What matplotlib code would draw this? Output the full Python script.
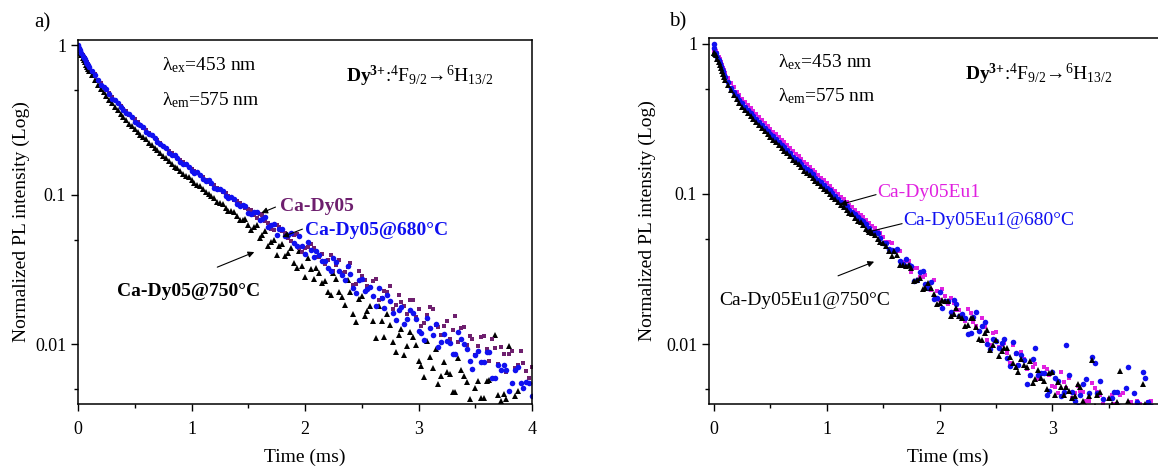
import numpy as np
import matplotlib
matplotlib.use("Agg")
import matplotlib.pyplot as plt
from matplotlib.ticker import FixedLocator, FixedFormatter, NullFormatter

plt.rcParams['font.family'] = ['Liberation Serif', 'DejaVu Serif']
plt.rcParams['mathtext.fontset'] = 'custom'
plt.rcParams['mathtext.rm'] = 'Liberation Serif'
plt.rcParams['mathtext.bf'] = 'Liberation Serif:bold'
plt.rcParams['mathtext.it'] = 'Liberation Serif:italic'

# ---- panel a) : time grids (ms) ----
t_a1 = [0, 0.02, 0.04, 0.06, 0.08, 0.10, 0.15, 0.20, 0.25, 0.30, 0.35, 0.40, 0.45, 0.50,
        0.55, 0.60, 0.65, 0.70, 0.75, 0.80, 0.85, 0.90, 0.95, 1.00,
        1.05, 1.10, 1.15, 1.20, 1.25, 1.30, 1.35, 1.40, 1.45, 1.50,
        1.55, 1.60, 1.65, 1.70, 1.75, 1.80, 1.85, 1.90, 1.95, 2.00,
        2.05, 2.10, 2.15, 2.20, 2.25, 2.30, 2.35, 2.40, 2.45, 2.50,
        2.55, 2.60, 2.65, 2.70, 2.75, 2.80, 2.85, 2.90, 2.95, 3.00,
        3.05, 3.10, 3.15, 3.20, 3.25, 3.30, 3.35, 3.40, 3.45, 3.50,
        3.55, 3.60, 3.65, 3.70, 3.75, 3.80, 3.85, 3.90, 3.95, 4.00]
t_a2 = [0.01, 0.03, 0.05, 0.07, 0.09, 0.125, 0.175, 0.225, 0.275, 0.325, 0.375, 0.425, 0.475,
        0.525, 0.575, 0.625, 0.675, 0.725, 0.775, 0.825, 0.875, 0.925, 0.975,
        1.025, 1.075, 1.125, 1.175, 1.225, 1.275, 1.325, 1.375, 1.425, 1.475,
        1.525, 1.575, 1.625, 1.675, 1.725, 1.775, 1.825, 1.875, 1.925, 1.975,
        2.025, 2.075, 2.125, 2.175, 2.225, 2.275, 2.325, 2.375, 2.425, 2.475,
        2.525, 2.575, 2.625, 2.675, 2.725, 2.775, 2.825, 2.875, 2.925, 2.975,
        3.025, 3.075, 3.125, 3.175, 3.225, 3.275, 3.325, 3.375, 3.425, 3.475,
        3.525, 3.575, 3.625, 3.675, 3.725, 3.775, 3.825, 3.875, 3.925, 3.975]

# Ca-Dy05: values on t_a2, then on t_a1
ca_dy05 = [0.97, 0.89, 0.84, 0.79, 0.75, 0.68, 0.59, 0.53, 0.48, 0.43, 0.395, 0.362, 0.332,
           0.306, 0.281, 0.260, 0.240, 0.222, 0.205, 0.190, 0.177, 0.165, 0.154,
           0.144, 0.135, 0.126, 0.119, 0.112, 0.104, 0.099, 0.092, 0.088, 0.082,
           0.0788, 0.0699, 0.0732, 0.0645, 0.0580, 0.0613, 0.0553, 0.0493, 0.0546, 0.0414,
           0.0446, 0.0445, 0.0382, 0.0348, 0.0394, 0.0341, 0.0299, 0.0328, 0.0249, 0.0311,
           0.0268, 0.0243, 0.0275, 0.0206, 0.0225, 0.0173, 0.0215, 0.0181, 0.0198, 0.0153,
           0.0132, 0.0158, 0.0172, 0.0131, 0.0133, 0.0109, 0.0154, 0.0128, 0.0099, 0.0109,
           0.0097, 0.0114, 0.0077, 0.0095, 0.0096, 0.0065, 0.0090, 0.0073, 0.0075, 0.0060]
ca_dy05_b = [0.98, 0.94, 0.87, 0.82, 0.77, 0.73, 0.64, 0.56, 0.505, 0.455, 0.415, 0.378, 0.345, 0.320,
             0.293, 0.272, 0.250, 0.232, 0.213, 0.198, 0.183, 0.172, 0.159, 0.150,
             0.140, 0.132, 0.123, 0.117, 0.109, 0.103, 0.096, 0.091, 0.085, 0.081,
             0.0729, 0.0748, 0.0673, 0.0593, 0.0631, 0.0575, 0.0513, 0.0543, 0.0442, 0.0442,
             0.0472, 0.0383, 0.0400, 0.0368, 0.0308, 0.0366, 0.0305, 0.0352, 0.0255, 0.0289,
             0.0245, 0.0265, 0.0198, 0.0228, 0.0247, 0.0183, 0.0193, 0.0159, 0.0197, 0.0173,
             0.0140, 0.0179, 0.0136, 0.0115, 0.0143, 0.0125, 0.0104, 0.0131, 0.0114, 0.0085,
             0.0112, 0.0093, 0.0109, 0.0074, 0.0086, 0.0086, 0.0070, 0.0091, 0.0066, 0.0071]

# Ca-Dy05@680°C: values on t_a1, then on t_a2
ca_dy05_680 = [1.00, 0.93, 0.85, 0.81, 0.75, 0.72, 0.63, 0.54, 0.51, 0.44, 0.41, 0.37, 0.35, 0.31,
               0.295, 0.265, 0.252, 0.226, 0.214, 0.192, 0.185, 0.167, 0.161, 0.145,
               0.142, 0.127, 0.125, 0.112, 0.110, 0.098, 0.097, 0.087, 0.086, 0.076,
               0.0766, 0.0679, 0.0711, 0.0627, 0.0543, 0.0596, 0.0537, 0.0479, 0.0531, 0.0403,
               0.0431, 0.0425, 0.0361, 0.0324, 0.0377, 0.0312, 0.0271, 0.0295, 0.0222, 0.0275,
               0.0235, 0.0211, 0.0237, 0.0175, 0.0194, 0.0145, 0.0179, 0.0149, 0.0162, 0.0124,
               0.0107, 0.0128, 0.0138, 0.0104, 0.0106, 0.0086, 0.0121, 0.0100, 0.0078, 0.0085,
               0.0076, 0.0089, 0.0060, 0.0073, 0.0073, 0.0049, 0.0068, 0.0055, 0.0056, 0.0045]
ca_dy05_680_b = [0.96, 0.89, 0.83, 0.78, 0.74, 0.67, 0.585, 0.525, 0.47, 0.43, 0.39, 0.355, 0.333,
                 0.300, 0.283, 0.255, 0.242, 0.218, 0.206, 0.186, 0.178, 0.162, 0.155,
                 0.141, 0.136, 0.124, 0.121, 0.109, 0.107, 0.096, 0.094, 0.084, 0.084,
                 0.0750, 0.0770, 0.0692, 0.0610, 0.0635, 0.0592, 0.0528, 0.0559, 0.0455, 0.0455,
                 0.0481, 0.0385, 0.0398, 0.0362, 0.0311, 0.0354, 0.0293, 0.0335, 0.0240, 0.0270,
                 0.0227, 0.0243, 0.0180, 0.0206, 0.0213, 0.0163, 0.0170, 0.0138, 0.0171, 0.0148,
                 0.0119, 0.0151, 0.0115, 0.0096, 0.0118, 0.0103, 0.0086, 0.0108, 0.0094, 0.0069,
                 0.0091, 0.0076, 0.0089, 0.0060, 0.0068, 0.0068, 0.0055, 0.0071, 0.0051, 0.0055]

# Ca-Dy05@750°C: values on t_a1, then on t_a2
ca_dy05_750 = [0.97, 0.89, 0.83, 0.77, 0.72, 0.68, 0.59, 0.51, 0.46, 0.41, 0.37, 0.33, 0.30, 0.275,
               0.25, 0.235, 0.215, 0.200, 0.182, 0.170, 0.155, 0.145, 0.133, 0.126,
               0.117, 0.110, 0.101, 0.095, 0.089, 0.082, 0.078, 0.072, 0.068, 0.063,
               0.0612, 0.0518, 0.0577, 0.0482, 0.0394, 0.0470, 0.0409, 0.0350, 0.0425, 0.0281,
               0.0322, 0.0326, 0.0259, 0.0226, 0.0301, 0.0226, 0.0185, 0.0223, 0.0141, 0.0211,
               0.0167, 0.0143, 0.0181, 0.0112, 0.0136, 0.0089, 0.0126, 0.0097, 0.0113, 0.0077,
               0.0061, 0.0082, 0.0094, 0.0062, 0.0065, 0.0048, 0.0081, 0.0062, 0.0043, 0.0051,
               0.0044, 0.0057, 0.0033, 0.0046, 0.0047, 0.0098, 0.0045, 0.0034, 0.0037, 0.0027]
ca_dy05_750_b = [0.93, 0.86, 0.80, 0.745, 0.70, 0.63, 0.545, 0.485, 0.43, 0.39, 0.35, 0.316, 0.288,
                 0.262, 0.243, 0.224, 0.207, 0.190, 0.176, 0.161, 0.151, 0.138, 0.131,
                 0.120, 0.114, 0.104, 0.099, 0.090, 0.087, 0.078, 0.077, 0.068, 0.069,
                 0.0583, 0.0628, 0.0543, 0.0454, 0.0500, 0.0459, 0.0393, 0.0443, 0.0327, 0.0336,
                 0.0378, 0.0275, 0.0299, 0.0265, 0.0215, 0.0276, 0.0207, 0.0272, 0.0159, 0.0201,
                 0.0155, 0.0180, 0.0111, 0.0144, 0.0159, 0.0104, 0.0115, 0.0085, 0.0121, 0.0099,
                 0.0072, 0.0106, 0.0070, 0.0054, 0.0076, 0.0063, 0.0048, 0.0068, 0.0056, 0.0037,
                 0.0057, 0.0044, 0.0058, 0.0115, 0.0042, 0.0043, 0.0033, 0.0049, 0.0031, 0.0036]

# ---- panel b) : time grids (ms) ----
t_b1 = [0, 0.02, 0.04, 0.06, 0.08, 0.10, 0.15, 0.20, 0.25, 0.30, 0.35, 0.40, 0.45, 0.50,
        0.55, 0.60, 0.65, 0.70, 0.75, 0.80, 0.85, 0.90, 0.95, 1.00,
        1.05, 1.10, 1.15, 1.20, 1.25, 1.30, 1.35, 1.40, 1.45, 1.50,
        1.55, 1.60, 1.65, 1.70, 1.75, 1.80, 1.85, 1.90, 1.95, 2.00,
        2.05, 2.10, 2.15, 2.20, 2.25, 2.30, 2.35, 2.40, 2.45, 2.50,
        2.55, 2.60, 2.65, 2.70, 2.75, 2.80, 2.85, 2.90, 2.95, 3.00,
        3.05, 3.10, 3.15, 3.20, 3.25, 3.30, 3.35, 3.40, 3.45, 3.50,
        3.55, 3.60, 3.65, 3.70, 3.75, 3.80, 3.85, 3.90]
t_b2 = [0, 0.01, 0.03, 0.05, 0.07, 0.09, 0.125, 0.175, 0.225, 0.275, 0.325, 0.375, 0.425, 0.475,
        0.525, 0.575, 0.625, 0.675, 0.725, 0.775, 0.825, 0.875, 0.925, 0.975,
        1.025, 1.075, 1.125, 1.175, 1.225, 1.275, 1.325, 1.375, 1.425, 1.475,
        1.525, 1.575, 1.625, 1.675, 1.725, 1.775, 1.825, 1.875, 1.925, 1.975,
        2.025, 2.075, 2.125, 2.175, 2.225, 2.275, 2.325, 2.375, 2.425, 2.475,
        2.525, 2.575, 2.625, 2.675, 2.725, 2.775, 2.825, 2.875, 2.925, 2.975,
        3.025, 3.075, 3.125, 3.175, 3.225, 3.275, 3.325, 3.375, 3.425, 3.475,
        3.525, 3.575, 3.625, 3.675, 3.725, 3.775, 3.825, 3.875]

# Ca-Dy05Eu1: values on t_b1, then on t_b2
ca_dy05eu1 = [0.88, 0.90, 0.82, 0.75, 0.69, 0.64, 0.55, 0.48, 0.43, 0.39, 0.355, 0.325, 0.296, 0.270,
              0.250, 0.229, 0.211, 0.192, 0.178, 0.162, 0.151, 0.139, 0.127, 0.118,
              0.108, 0.100, 0.092, 0.085, 0.078, 0.072, 0.067, 0.061, 0.057, 0.052,
              0.0480, 0.0412, 0.0419, 0.0358, 0.0301, 0.0320, 0.0282, 0.0245, 0.0266, 0.0197,
              0.0208, 0.0202, 0.0169, 0.0150, 0.0172, 0.0141, 0.0122, 0.0131, 0.0098, 0.0120,
              0.0099, 0.0088, 0.0099, 0.0073, 0.0080, 0.0061, 0.0074, 0.0063, 0.0068, 0.0053,
              0.0047, 0.0056, 0.0060, 0.0047, 0.0049, 0.0042, 0.0055, 0.0048, 0.0040, 0.0043,
              0.0040, 0.0046, 0.0034, 0.0041, 0.0042, 0.0031, 0.0041, 0.0035]
ca_dy05eu1_b = [0.92, 0.91, 0.86, 0.79, 0.72, 0.67, 0.59, 0.515, 0.455, 0.41, 0.372, 0.340, 0.310, 0.283,
                0.260, 0.240, 0.220, 0.201, 0.185, 0.170, 0.157, 0.145, 0.133, 0.123,
                0.113, 0.104, 0.096, 0.088, 0.082, 0.075, 0.070, 0.064, 0.059, 0.055,
                0.0478, 0.0474, 0.0414, 0.0354, 0.0356, 0.0323, 0.0280, 0.0290, 0.0230, 0.0225,
                0.0234, 0.0185, 0.0188, 0.0168, 0.0143, 0.0161, 0.0132, 0.0150, 0.0106, 0.0118,
                0.0096, 0.0102, 0.0075, 0.0086, 0.0089, 0.0068, 0.0070, 0.0059, 0.0071, 0.0062,
                0.0052, 0.0065, 0.0051, 0.0044, 0.0053, 0.0048, 0.0042, 0.0051, 0.0046, 0.0037,
                0.0046, 0.0040, 0.0047, 0.0035, 0.0039, 0.0040, 0.0034, 0.0042]

# Ca-Dy05Eu1@680°C: values on t_b2, then on t_b1
ca_dy05eu1_680 = [1.00, 0.87, 0.81, 0.74, 0.68, 0.62, 0.555, 0.48, 0.42, 0.38, 0.345, 0.316, 0.288, 0.263,
                  0.242, 0.223, 0.205, 0.187, 0.172, 0.158, 0.146, 0.135, 0.124, 0.115,
                  0.106, 0.097, 0.089, 0.083, 0.076, 0.070, 0.066, 0.059, 0.056, 0.051,
                  0.0473, 0.0421, 0.0427, 0.0340, 0.0338, 0.0265, 0.0300, 0.0251, 0.0260, 0.0204,
                  0.0174, 0.0193, 0.0197, 0.0153, 0.0150, 0.0119, 0.0164, 0.0133, 0.0101, 0.0108,
                  0.0094, 0.0108, 0.0072, 0.0087, 0.0085, 0.0054, 0.0080, 0.0062, 0.0064, 0.0049,
                  0.0060, 0.0045, 0.0098, 0.0048, 0.0039, 0.0054, 0.0047, 0.0075, 0.0057, 0.0033,
                  0.0044, 0.0048, 0.0036, 0.0070, 0.0047, 0.0037, 0.0060, 0.0039]
ca_dy05eu1_680_b = [0.93, 0.86, 0.78, 0.715, 0.655, 0.60, 0.51, 0.445, 0.40, 0.36, 0.33, 0.300, 0.276, 0.250,
                    0.233, 0.212, 0.197, 0.177, 0.166, 0.150, 0.141, 0.128, 0.120, 0.109,
                    0.102, 0.092, 0.087, 0.078, 0.074, 0.067, 0.063, 0.056, 0.055, 0.047,
                    0.0433, 0.0414, 0.0356, 0.0367, 0.0330, 0.0266, 0.0308, 0.0238, 0.0199, 0.0223,
                    0.0194, 0.0163, 0.0184, 0.0160, 0.0117, 0.0151, 0.0123, 0.0141, 0.0093, 0.0105,
                    0.0102, 0.0081, 0.0103, 0.0073, 0.0078, 0.0062, 0.0095, 0.0064, 0.0046, 0.0065,
                    0.0057, 0.0048, 0.0062, 0.0042, 0.0046, 0.0059, 0.0082, 0.0047, 0.0043, 0.0033,
                    0.0048, 0.0038, 0.0051, 0.0031, 0.0041, 0.0065, 0.0041, 0.0026]

# Ca-Dy05Eu1@750°C: values on t_b1, then on t_b2
ca_dy05eu1_750 = [0.86, 0.84, 0.75, 0.69, 0.63, 0.575, 0.49, 0.425, 0.38, 0.345, 0.314, 0.287, 0.262, 0.238,
                  0.221, 0.203, 0.187, 0.169, 0.157, 0.143, 0.133, 0.122, 0.113, 0.104,
                  0.096, 0.088, 0.082, 0.075, 0.069, 0.065, 0.058, 0.055, 0.050, 0.047,
                  0.0417, 0.0420, 0.0337, 0.0333, 0.0322, 0.0266, 0.0234, 0.0257, 0.0216, 0.0188,
                  0.0194, 0.0153, 0.0173, 0.0150, 0.0134, 0.0149, 0.0109, 0.0118, 0.0092, 0.0106,
                  0.0090, 0.0094, 0.0075, 0.0065, 0.0073, 0.0077, 0.0059, 0.0060, 0.0050, 0.0065,
                  0.0056, 0.0046, 0.0049, 0.0045, 0.0052, 0.0038, 0.0079, 0.0046, 0.0034, 0.0044,
                  0.0038, 0.0066, 0.0033, 0.0038, 0.0032, 0.0054, 0.0033, 0.0029]
ca_dy05eu1_750_b = [0.87, 0.85, 0.79, 0.72, 0.66, 0.60, 0.53, 0.455, 0.40, 0.362, 0.328, 0.300, 0.274, 0.250,
                    0.229, 0.212, 0.194, 0.178, 0.163, 0.150, 0.138, 0.127, 0.118, 0.108,
                    0.100, 0.092, 0.085, 0.078, 0.073, 0.066, 0.062, 0.056, 0.053, 0.048,
                    0.0448, 0.0387, 0.0391, 0.0339, 0.0337, 0.0265, 0.0277, 0.0236, 0.0238, 0.0185,
                    0.0197, 0.0195, 0.0158, 0.0155, 0.0133, 0.0149, 0.0131, 0.0107, 0.0125, 0.0098,
                    0.0083, 0.0094, 0.0082, 0.0070, 0.0080, 0.0071, 0.0055, 0.0067, 0.0057, 0.0064,
                    0.0046, 0.0052, 0.0052, 0.0044, 0.0054, 0.0042, 0.0045, 0.0039, 0.0048, 0.0035,
                    0.0040, 0.0041, 0.0036, 0.0042, 0.0032, 0.0034, 0.0040, 0.0037]

ytick_vals = [0.01, 0.1, 1]
ytick_labels = ['0.01', '0.1', '1']

purple = '#6e1f6e'
blue = '#1010f0'
magenta = '#e020e0'

fig = plt.figure(figsize=(11.58, 4.68), dpi=100)
ax1 = fig.add_axes([0.0674, 0.1368, 0.392, 0.778])
ax2 = fig.add_axes([0.6123, 0.1368, 0.3938, 0.782])

# panel a
ax1.plot(t_a1 + t_a2, ca_dy05_750 + ca_dy05_750_b, ls='none', marker='^', ms=4.3, mew=0, color='black')
ax1.plot(t_a2 + t_a1, ca_dy05 + ca_dy05_b, ls='none', marker='s', ms=3.4, mew=0, color=purple)
ax1.plot(t_a1 + t_a2, ca_dy05_680 + ca_dy05_680_b, ls='none', marker='o', ms=4.0, mew=0, color=blue)
# panel b
ax2.plot(t_b1 + t_b2, ca_dy05eu1 + ca_dy05eu1_b, ls='none', marker='s', ms=3.4, mew=0, color=magenta)
ax2.plot(t_b2 + t_b1, ca_dy05eu1_680 + ca_dy05eu1_680_b, ls='none', marker='o', ms=4.0, mew=0, color=blue)
ax2.plot(t_b1 + t_b2, ca_dy05eu1_750 + ca_dy05eu1_750_b, ls='none', marker='^', ms=4.3, mew=0, color='black')

ax1.set_xlim(0, 4)
ax2.set_xlim(-0.044, 4.0)
for ax in (ax1, ax2):
    ax.set_yscale('log')
    ax.set_ylim(0.0040, 1.09)
    ax.yaxis.set_major_locator(FixedLocator(ytick_vals))
    ax.yaxis.set_major_formatter(FixedFormatter(ytick_labels))
    ax.yaxis.set_minor_locator(FixedLocator([0.005, 0.05, 0.5]))
    ax.yaxis.set_minor_formatter(NullFormatter())
    ax.xaxis.set_minor_locator(FixedLocator([0.5, 1.5, 2.5, 3.5]))
    ax.tick_params(which='major', direction='out', length=5, width=1, labelsize=13)
    ax.tick_params(axis='x', which='major', pad=7)
    ax.tick_params(which='minor', direction='out', length=3, width=1)
    for s in ax.spines.values():
        s.set_linewidth(1.1)
    ax.set_xlabel('Time (ms)', fontsize=14)
    ax.set_ylabel('Normalized PL intensity (Log)', fontsize=14)
ax1.xaxis.set_major_locator(FixedLocator([0, 1, 2, 3, 4]))
ax2.xaxis.set_major_locator(FixedLocator([0, 1, 2, 3]))

ax1.xaxis.set_label_coords(0.5, -0.122)
ax2.xaxis.set_label_coords((948 - 709) / 456, -0.122)
ax1.yaxis.set_label_coords(-0.106, 0.5)
ax2.yaxis.set_label_coords(-0.116, 0.5)

dy_text = r'$\mathbf{Dy}^{\mathbf{3}\mathbf{{+}}}$:$^{4}$F$_{9/2}$→$^{6}$H$_{13/2}$'
arrow = dict(arrowstyle='-|>', color='black', lw=0.8, mutation_scale=9, shrinkA=0, shrinkB=0)

# panel a texts
ax1.text(0.74, 0.743, r'λ$_{\mathrm{ex}}$=453 nm', fontsize=14, ha='left', va='center')
ax1.text(0.74, 0.433, r'λ$_{\mathrm{em}}$=575 nm', fontsize=14, ha='left', va='center')
ax1.text(2.36, 0.617, dy_text, fontsize=14, ha='left', va='center')
ax1.annotate('', xy=(1.615, 0.0758), xytext=(1.74, 0.083), arrowprops=arrow)
ax1.text(1.78, 0.0843, 'Ca-Dy05', fontsize=14, fontweight='bold', color=purple,
         ha='left', va='center')
ax1.annotate('', xy=(1.80, 0.0524), xytext=(1.977, 0.0591), arrowprops=arrow)
ax1.text(2.0, 0.0582, 'Ca-Dy05@680°C', fontsize=14, fontweight='bold', color=blue,
         ha='left', va='center')
ax1.annotate('', xy=(1.553, 0.0415), xytext=(1.227, 0.0329), arrowprops=arrow)
ax1.text(0.344, 0.0227, 'Ca-Dy05@750°C', fontsize=14, fontweight='bold', color='black',
         ha='left', va='center')

# panel b texts
ax2.text(0.568, 0.75, r'λ$_{\mathrm{ex}}$=453 nm', fontsize=14, ha='left', va='center')
ax2.text(0.568, 0.445, r'λ$_{\mathrm{em}}$=575 nm', fontsize=14, ha='left', va='center')
ax2.text(2.227, 0.624, dy_text, fontsize=14, ha='left', va='center')
ax2.annotate('', xy=(1.118, 0.0849), xytext=(1.437, 0.0989), arrowprops=arrow)
ax2.text(1.446, 0.102, 'Ca-Dy05Eu1', fontsize=14, color=magenta, ha='left', va='center')
ax2.annotate('', xy=(1.34, 0.0552), xytext=(1.668, 0.0634), arrowprops=arrow)
ax2.text(1.68, 0.0664, 'Ca-Dy05Eu1@680°C', fontsize=14, color=blue, ha='left',
         va='center')
ax2.annotate('', xy=(1.42, 0.0354), xytext=(1.10, 0.0285), arrowprops=arrow)
ax2.text(0.044, 0.0194, 'Ca-Dy05Eu1@750°C', fontsize=14, color='black', ha='left',
         va='center')

fig.text(0.037, 0.951, 'a)', fontsize=15, ha='center', va='center')
fig.text(0.585, 0.953, 'b)', fontsize=15, ha='center', va='center')

fig.savefig('out.png', dpi=100)
